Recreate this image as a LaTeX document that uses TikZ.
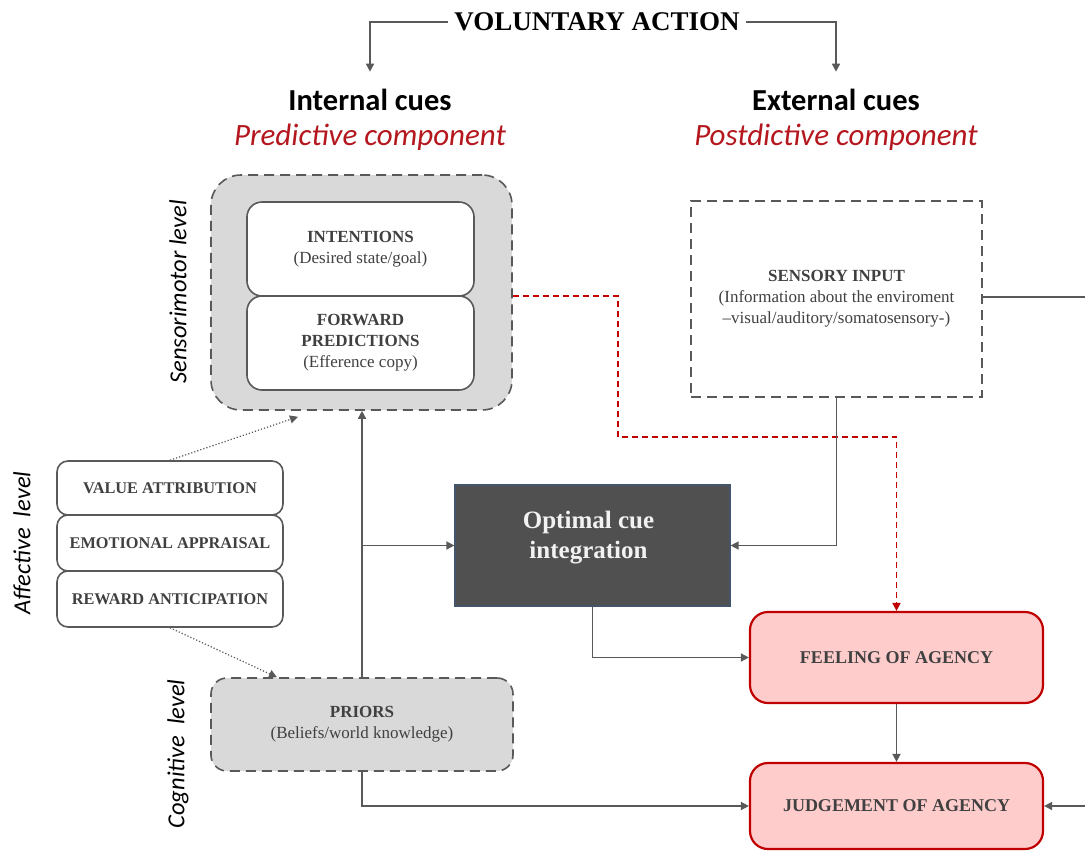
\documentclass[tikz,border=0pt]{standalone}
\usepackage{fontspec}
\setmainfont{Liberation Serif}
\newfontfamily\calsans{Carlito}
\usetikzlibrary{arrows.meta,calc}

\definecolor{linegray}{RGB}{89,89,89}
\definecolor{boxgray}{RGB}{217,217,217}
\definecolor{textgray}{RGB}{64,64,64}
\definecolor{darkred}{RGB}{180,24,30}
\definecolor{pinkfill}{RGB}{255,204,204}
\definecolor{boxred}{RGB}{192,0,0}
\definecolor{optfill}{RGB}{80,80,80}
\definecolor{optedge}{RGB}{68,84,106}

\tikzset{
  conn/.style={draw=linegray, line width=1.6pt, -{Triangle[length=8pt,width=8pt]}},
  dotconn/.style={draw=linegray, line width=1.2pt, dotted, -{Triangle[length=8pt,width=8pt]}},
  redconn/.style={draw=boxred, line width=1.6pt, dash pattern=on 6pt off 4pt, -{Triangle[length=8pt,width=8pt]}},
  plainline/.style={draw=linegray, line width=1.6pt},
  wbox/.style={draw=linegray, line width=1.6pt, fill=white, align=center, text=textgray, inner sep=0pt,
    font=\fontsize{17}{21}\selectfont},
  dashbox/.style={draw=linegray, line width=1.6pt, dash pattern=on 10pt off 6pt, align=center,
    text=textgray, inner sep=0pt, font=\fontsize{17}{21}\selectfont},
  affbox/.style={wbox, rounded corners=11pt, minimum width=226pt, font=\bfseries\fontsize{16.3}{19}\selectfont},
  agency/.style={draw=boxred, line width=2.2pt, fill=pinkfill, rounded corners=18pt, align=center,
    text=textgray, inner sep=0pt, minimum width=293pt, font=\bfseries\fontsize{18}{21}\selectfont},
  levellabel/.style={rotate=90, font=\calsans\itshape\fontsize{24.5}{28}\selectfont, text=black},
  cuehead/.style={font=\calsans\bfseries\fontsize{30.5}{34}\selectfont, text=black},
  cuesub/.style={font=\calsans\itshape\fontsize{31}{35}\selectfont, text=darkred},
}

\begin{document}
\begin{tikzpicture}[x=1pt,y=-1pt]
\useasboundingbox (0,0) rectangle (1085,852);
\clip (0,0) rectangle (1085,852);
\fill[white] (0,0) rectangle (1085,852);

% heading and the two cue families
\node[font=\bfseries\fontsize{27}{30}\selectfont, inner sep=6pt] (title) at (597,22) {VOLUNTARY ACTION};
\node[cuehead] (intl) at (370,100) {Internal cues};
\node[cuesub] (pred) at (370,137) {Predictive component};
\node[cuehead] (extl) at (836,100) {External cues};
\node[cuesub] (post) at (836,137) {Postdictive component};
\draw[conn, shorten >=14pt] (title.west) -| (intl.north);
\draw[conn, shorten >=14pt] (title.east) -| (extl.north);

% sensorimotor level
\node[dashbox, fill=boxgray, rounded corners=30pt, minimum width=301pt, minimum height=235pt] (sm) at (361.5,292.5) {};
\node[wbox, rounded corners=15pt, minimum width=227pt, minimum height=94pt] (int) at (360.5,249)
  {\textbf{INTENTIONS}\\(Desired state/goal)};
\node[wbox, rounded corners=15pt, minimum width=227pt, minimum height=94pt] (fwd) at (360.5,343)
  {\textbf{FORWARD}\\\textbf{PREDICTIONS}\\(Efference copy)};
\node[levellabel] (lsm) at (178,292) {Sensorimotor level};

% sensory input
\node[dashbox, fill=white, minimum width=291pt, minimum height=196pt] (sens) at (836.5,299)
  {\textbf{SENSORY INPUT}\\(Information about the enviroment\\–visual/auditory/somatosensory-)};

% affective level
\node[affbox, minimum height=54pt] (val) at (170,488) {VALUE ATTRIBUTION};
\node[affbox, minimum height=56pt] (emo) at (170,543) {EMOTIONAL APPRAISAL};
\node[affbox, minimum height=56pt] (rew) at (170,599) {REWARD ANTICIPATION};
\node[levellabel] (laf) at (22,543) {Affective\ \ level};

% cognitive level
\node[dashbox, fill=boxgray, rounded corners=16pt, minimum width=302pt, minimum height=93pt] (pri) at (362,724.5)
  {\textbf{PRIORS}\\(Beliefs/world knowledge)};
\node[levellabel] (lcg) at (178,754) {Cognitive\ \ level};

% integration and agency
\node[draw=optedge, line width=1.2pt, fill=optfill, minimum width=275pt, minimum height=121pt,
  inner sep=0pt] (opt) at (592.5,545.5) {};
\node[text={rgb,255:red,242;green,242;blue,242}, align=center, inner sep=0pt,
  font=\bfseries\fontsize{25}{30}\selectfont] (optlabel) at ($(opt.center)+(-4,-8)$)
  {Optimal cue\\integration};
\node[agency, minimum height=91pt] (feel) at (896.5,657.5) {FEELING OF AGENCY};
\node[agency, minimum height=86pt] (judg) at (896.5,806) {JUDGEMENT OF AGENCY};

% connectors
\coordinate (redstart) at ($(sm.east)+(0,3.5)$);
\coordinate (redbend) at (618,437);
\coordinate (rightrail) at (1100,297);
\draw[redconn] (redstart) -| (redbend) -| (feel.north);
\draw[plainline] (sens.east |- rightrail) -- (rightrail);
\draw[conn] (rightrail) |- (judg.east);
\draw[conn] (sens.south) |- (opt.east);
\draw[conn] (pri.north) -- (pri.north |- sm.south);
\draw[conn] (pri.north |- opt.west) -- (opt.west);
\draw[conn] (opt.south) |- (feel.west);
\draw[conn] (pri.south) |- (judg.west);
\draw[conn] (feel.south) -- (judg.north);
\draw[dotconn] (val.north) -- ($(sm.south west)!0.29!(sm.south east)+(0,6)$);
\draw[dotconn] (rew.south) -- ($(pri.north west)!0.22!(pri.north east)$);
\end{tikzpicture}
\end{document}
